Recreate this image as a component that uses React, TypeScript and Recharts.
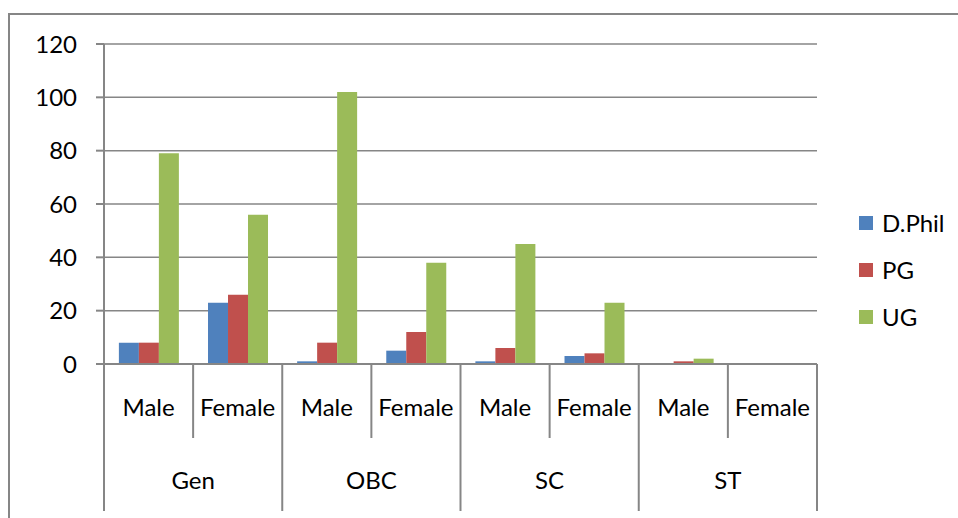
import React from "react";
import {
  BarChart,
  Bar,
  XAxis,
  YAxis,
  CartesianGrid,
  Legend,
} from "recharts";

const groups = ["Gen", "OBC", "SC", "ST"];
const genders = ["Male", "Female"];
const dphil = [8, 23, 1, 5, 1, 3, 0, 0];
const pg = [8, 26, 8, 12, 6, 4, 1, 0];
const ug = [79, 56, 102, 38, 45, 23, 2, 0];
const yTicks = [0, 20, 40, 60, 80, 100, 120];

const series = [
  { key: "dphil", name: "D.Phil", color: "#4F81BD" },
  { key: "pg", name: "PG", color: "#C0504D" },
  { key: "ug", name: "UG", color: "#9BBB59" },
];

const data = dphil.map((v, i) => ({
  label: genders[i % 2],
  group: groups[Math.floor(i / 2)],
  dphil: v,
  pg: pg[i],
  ug: ug[i],
}));

const FONT = "Lato, 'Liberation Sans', sans-serif";
const LINE = "#868686";
const FS = 24;

function CategoryTick(props: any) {
  const { x, y, payload } = props;
  const i = payload.index;
  const half = payload.offset ?? 713 / 16;
  const left = x - half;
  return (
    <g>
      <line
        x1={left}
        x2={left}
        y1={y}
        y2={i % 2 === 0 ? y + 147 : y + 74}
        stroke={LINE}
        strokeWidth={2}
      />
      {i === data.length - 1 && (
        <line x1={x + half} x2={x + half} y1={y} y2={y + 147} stroke={LINE} strokeWidth={2} />
      )}
      <text x={x} y={y + 52} textAnchor="middle" fontSize={FS} fill="#000" fontFamily={FONT}>
        {payload.value}
      </text>
      {i % 2 === 1 && (
        <text x={left} y={y + 125} textAnchor="middle" fontSize={FS} fill="#000" fontFamily={FONT}>
          {data[i].group}
        </text>
      )}
    </g>
  );
}

function LegendBox() {
  return (
    <div style={{ fontFamily: FONT, fontSize: FS, color: "#000", textAlign: "left" }}>
      {series.map((s) => (
        <div key={s.key} style={{ height: 47, display: "flex", alignItems: "center" }}>
          <span
            style={{ width: 14, height: 14, background: s.color, marginRight: 9, display: "inline-block" }}
          />
          <span>{s.name}</span>
        </div>
      ))}
    </div>
  );
}

export default function App() {
  return (
    <div
      style={{
        position: "absolute",
        left: 0,
        top: 0,
        width: 958,
        height: 518,
        overflow: "hidden",
        background: "#fff",
      }}
    >
      <div
        style={{
          position: "absolute",
          left: 8,
          top: 13,
          width: 1000,
          height: 600,
          borderTop: `2px solid ${LINE}`,
          borderLeft: `2px solid ${LINE}`,
        }}
      />
      <div style={{ position: "absolute", left: 0, top: 0 }}>
        <BarChart
          width={958}
          height={518}
          data={data}
          margin={{ top: 44, right: 141, left: 10, bottom: 0 }}
          barCategoryGap="16.7%"
          barGap={0}
        >
          <CartesianGrid vertical={false} stroke={LINE} strokeWidth={1.5} />
          <XAxis
            dataKey="label"
            height={154}
            interval={0}
            tickSize={0}
            tickMargin={0}
            tickLine={false}
            axisLine={{ stroke: LINE, strokeWidth: 2 }}
            tick={<CategoryTick />}
          />
          <YAxis
            width={94}
            domain={[0, 120]}
            ticks={yTicks}
            interval={0}
            tickSize={8}
            tickMargin={19}
            axisLine={{ stroke: LINE, strokeWidth: 2 }}
            tickLine={{ stroke: LINE, strokeWidth: 2 }}
            tick={{ fontSize: FS, fill: "#000", fontFamily: FONT }}
          />
          <Legend
            layout="horizontal"
            verticalAlign="middle"
            align="center"
            content={<LegendBox />}
            wrapperStyle={{ left: 859, top: 199, width: 99 }}
          />
          {series.map((s) => (
            <Bar
              key={s.key}
              dataKey={s.key}
              name={s.name}
              fill={s.color}
              isAnimationActive={false}
            />
          ))}
        </BarChart>
      </div>
    </div>
  );
}
